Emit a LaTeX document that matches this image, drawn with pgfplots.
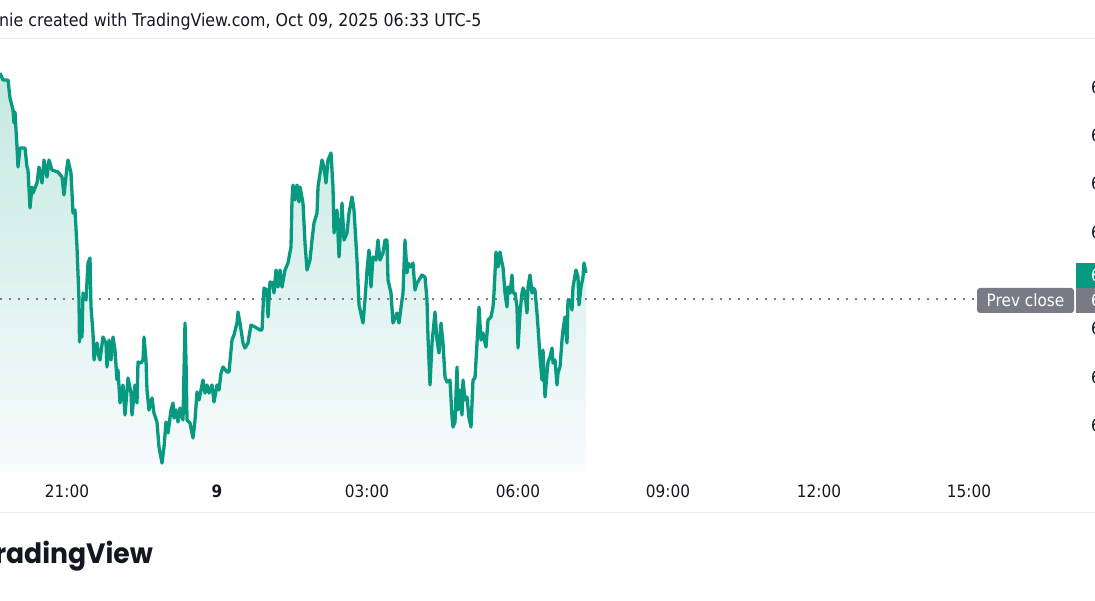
\documentclass[border=0pt]{standalone}
\usepackage{pgfplots}
\pgfplotsset{compat=1.18}
\usepackage{pgfplotstable}
\usepackage{fontspec}
\setmainfont{DejaVu Sans}[FakeStretch=0.9]
\newfontfamily\logofont{Poppins}[FakeStretch=0.95]
\definecolor{tvgreen}{RGB}{8,153,129}
\definecolor{tvgray}{RGB}{120,123,134}
\definecolor{tvtext}{RGB}{19,23,34}
\definecolor{sepline}{RGB}{234,237,242}
\definecolor{filltop}{RGB}{196,233,224}
\definecolor{fillbot}{RGB}{248,251,253}

\pgfplotstableread{
x y
0 73
3 80
8 80
10 98
13 110
14 123
15 112
16 130
17 147
18 167
20 148
25 148
27 167
28 170
30 208
32 187
33 193
37 183
39 167
42 183
44 160
47 177
49 160
52 170
58 172
62 177
64 195
67 167
68 160
71 173
73 213
75 210
77 247
79 300
79.5 342
81 317
82 337
83 293
86 300
88 263
90 258
91 307
93 333
94 360
97 343
99 357
100 360
103 337
106 343
107 367
109 340
111 360
113 337
115 350
117 380
118 370
120 403
123 385
125 415
128 378
131 393
132 415
135 385
137 403
138 362
141 363
143 360
144 337
146 360
147 390
149 410
152 398
154 413
157 422
159 447
162 463
164 447
166 422
168 433
171 410
173 403
174 418
176 410
178 422
180 408
183 420
185 323
186 360
187 420
190 423
193 438
195 420
197 392
199 400
203 380
205 393
207 385
209 393
212 385
214 402
217 385
219 390
221 373
223 367
227 372
229 372
232 340
234 335
237 323
238 312
240 323
243 343
245 348
248 343
251 325
255 327
260 330
262 330
264 288
267 290
268 317
270 282
273 283
274 293
276 270
278 287
280 270
282 287
285 270
288 263
291 247
292 200
293 185
295 200
297 185
299 202
300 187
303 203
305 243
307 270
310 260
312 240
314 223
317 213
318 187
322 160
324 167
326 183
328 160
331 153
333 187
334 233
337 210
339 257
342 203
344 240
347 233
349 213
352 197
354 210
357 260
359 305
363 323
365 300
367 270
369 250
371 287
373 257
376 260
378 240
380 260
383 253
385 240
387 240
388 280
391 293
393 323
397 313
399 323
402 300
403 293
405 240
407 273
408 263
410 267
413 263
415 290
417 283
419 280
422 275
425 277
427 300
428 337
430 385
432 343
435 312
437 340
439 353
441 323
443 343
445 377
447 382
450 380
452 417
453 427
455 422
457 367
458 410
460 390
462 415
463 380
465 400
467 397
469 418
471 427
473 380
475 378
477 343
479 307
481 340
483 333
486 347
488 320
491 317
493 307
494 293
496 252
498 267
500 252
502 263
503 267
505 293
507 307
508 287
510 293
512 275
513 293
515 293
517 307
518 348
520 313
522 293
523 288
525 293
527 313
528 287
530 275
532 293
533 288
535 290
537 313
538 327
540 357
542 380
543 350
545 397
547 373
548 362
550 357
552 348
553 363
555 360
557 385
558 373
560 367
562 340
563 330
565 317
567 343
568 300
570 300
572 310
573 287
576 270
578 277
579 305
581 287
583 277
584 263
586 273
}\pricedata

\begin{document}
\begin{tikzpicture}
\begin{axis}[
  at={(0pt,128pt)}, anchor=south west,
  scale only axis, width=1076pt, height=432pt,
  xmin=0, xmax=1076, ymin=128, ymax=560,
  axis line style={draw=none}, tick style={draw=none},
  major tick length=0pt,
  xtick={67,217,367,518,668,819,969},
  xticklabels={21:00,\textbf{9},03:00,06:00,09:00,12:00,15:00},
  xticklabel style={anchor=base, yshift=-25pt, inner sep=0pt, text=tvtext, font=\fontsize{17}{20}\selectfont},
  ytick={513,465,417,368,272,223,175},
  yticklabels={6,6,6,6,6,6,6},
  yticklabel pos=right,
  yticklabel style={anchor=west, inner sep=0pt, xshift=15pt, text=tvtext, font=\fontsize{17}{20}\selectfont},
  clip=false,
]
\addplot[top color=filltop, bottom color=fillbot, draw=none] table[x=x, y expr=600-\thisrow{y}] {\pricedata} -- (axis cs:586,128) -- (axis cs:0,128) -- cycle;
\addplot[draw=tvgray, dash pattern=on 1.5pt off 7.5pt, line width=1.5pt] coordinates {(0,301) (977,301)};
\addplot[draw=tvgreen, line width=3.3pt, line join=round] table[x=x, y expr=600-\thisrow{y}] {\pricedata};
\end{axis}
\begin{scope}[x=1pt,y=1pt]
\clip (0,0) rectangle (1095,600);
\draw[sepline, line width=1pt] (0,561) -- (1095,561);
\draw[sepline, line width=1pt] (0,88) -- (1095,88);
\node[anchor=west, inner sep=0pt, text=tvtext, font=\fontsize{17.6}{20}\selectfont] at (-1,578) {nie created with TradingView.com, Oct 09, 2025 06:33 UTC-5};
\fill[tvgray, rounded corners=3pt] (977,287) rectangle (1074,312);
\node[text=white, inner sep=0pt, font=\fontsize{17}{20}\selectfont] at (1025.5,299.5) {Prev close};
\fill[tvgreen] (1076,312) rectangle (1100,337);
\fill[tvgray] (1076,287) rectangle (1100,312);
\node[anchor=west, inner sep=0pt, text=white, font=\fontsize{17}{20}\selectfont] at (1091,324.5) {6};
\node[anchor=west, inner sep=0pt, text=white, font=\fontsize{17}{20}\selectfont] at (1091,299.5) {6};
\node[anchor=east, inner sep=0pt, text=tvtext, font=\logofont\bfseries\fontsize{28}{32}\selectfont] at (153,44) {TradingView};
\end{scope}
\pgfresetboundingbox
\path[use as bounding box] (0pt,0pt) rectangle (1095pt,600pt);
\end{tikzpicture}
\end{document}
